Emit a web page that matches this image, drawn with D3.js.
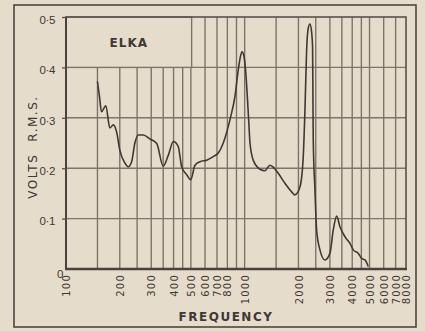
<!DOCTYPE html>
<html><head><meta charset="utf-8">
<script src="https://cdn.jsdelivr.net/npm/d3@7"></script>
<style>
html,body{margin:0;padding:0;background:#e6dccb;}
svg{display:block;}
</style></head>
<body>
<script>
// ---- data ----
const freqs = [150,154,158,167,176,184,192,200,214,223,233,243,254,271,295,322,350,374,399,425,444,474,499,527,562,613,667,712,759,827,882,921,945,966,990,1008,1053,1071,1117,1218,1299,1386,1446,1542,1681,1833,1912,2040,2128,2175,2223,2270,2320,2370,2400,2410,2421,2474,2529,2639,2814,3001,3131,3272,3415,3642,3884,4053,4322,4515,4713,4917];
const volts = [0.372,0.342,0.312,0.324,0.280,0.286,0.272,0.236,0.210,0.203,0.213,0.250,0.266,0.266,0.258,0.249,0.204,0.226,0.253,0.243,0.203,0.187,0.177,0.206,0.213,0.216,0.223,0.230,0.250,0.296,0.342,0.395,0.420,0.431,0.423,0.401,0.296,0.250,0.216,0.198,0.195,0.206,0.202,0.190,0.170,0.153,0.147,0.163,0.223,0.315,0.435,0.478,0.486,0.470,0.440,0.350,0.256,0.157,0.077,0.038,0.018,0.031,0.077,0.105,0.084,0.064,0.051,0.038,0.031,0.021,0.018,0.005];
const gridFreqs = [150,200,250,300,350,400,450,500,600,700,800,900,1000,1500,2000,2500,3000,3500,4000,4500,5000,6000,7000];
const gridVolts = [0.1,0.2,0.3,0.4];
const xTickValues = [100,200,300,400,500,600,700,800,1000,2000,3000,4000,5000,6000,7000,8000];
const yTickValues = [0,0.1,0.2,0.3,0.4,0.5];
const yTickLabels = ["0","0·1","0·2","0·3","0·4","0·5"];
const title = "ELKA";
const xTitle = "FREQUENCY";
const yTitleParts = ["VOLTS","R.M.S."];

// ---- layout ----
const W = 425, H = 331;
const L = 66, R = 406, T = 17, B = 269;
const bg = "#e6dccb", ink = "#3f3833", grid = "#7f746a";

const svg = d3.select("body").append("svg").attr("width", W).attr("height", H);
svg.append("rect").attr("width", W).attr("height", H).attr("fill", bg);

const x = d3.scaleLog().domain([100, 8000]).range([L, R]);
const y = d3.scaleLinear().domain([0, 0.5]).range([B, T]);

// outer frame
svg.append("rect").attr("x", 14).attr("y", 5).attr("width", 402).attr("height", 322)
  .attr("fill", "none").attr("stroke", "#4e4640").attr("stroke-width", 1.6);

// grid
svg.append("g").selectAll("line").data(gridFreqs).join("line")
  .attr("x1", d => x(d)).attr("x2", d => x(d)).attr("y1", T).attr("y2", B)
  .attr("stroke", grid).attr("stroke-width", 1.4);
svg.append("g").selectAll("line").data(gridVolts).join("line")
  .attr("x1", L).attr("x2", R).attr("y1", d => y(d)).attr("y2", d => y(d))
  .attr("stroke", grid).attr("stroke-width", 1.4);

// title box (covers grid)
const boxR = x(505), boxB = y(0.4);
svg.append("rect").attr("x", L).attr("y", T).attr("width", boxR - L).attr("height", boxB - T)
  .attr("fill", bg).attr("stroke", grid).attr("stroke-width", 1.4);
svg.append("text").attr("x", (L + boxR) / 2).attr("y", (T + boxB) / 2).attr("dy", "0.36em")
  .attr("text-anchor", "middle").attr("font-family", "DejaVu Sans").attr("font-weight", "bold")
  .attr("font-size", 12).attr("letter-spacing", 1).attr("fill", ink).text(title);

// plot border
svg.append("rect").attr("x", L).attr("y", T).attr("width", R - L).attr("height", B - T)
  .attr("fill", "none").attr("stroke", "#5a514a").attr("stroke-width", 1.6);
svg.append("line").attr("x1", L - 1).attr("x2", R + 1).attr("y1", B).attr("y2", B)
  .attr("stroke", "#4a423c").attr("stroke-width", 2.4);
svg.append("line").attr("x1", L).attr("x2", L).attr("y1", T).attr("y2", B)
  .attr("stroke", "#4a423c").attr("stroke-width", 2);

// curve
const pts = freqs.map((f, i) => [f, volts[i]]);
svg.append("path").datum(pts)
  .attr("d", d3.line().x(d => x(d[0])).y(d => y(d[1])).curve(d3.curveMonotoneX))
  .attr("fill", "none").attr("stroke", ink).attr("stroke-width", 1.6).attr("stroke-linejoin", "round");

// y axis
const yAxis = svg.append("g").attr("transform", `translate(${L},0)`)
  .call(d3.axisLeft(y).tickValues(yTickValues).tickSize(4).tickPadding(7)
    .tickFormat((d, i) => yTickLabels[i]));
yAxis.select(".domain").remove();
yAxis.selectAll(".tick line").attr("stroke", "#5a514a").attr("stroke-width", 1.3);
yAxis.selectAll("text").attr("font-family", "Liberation Sans").attr("font-size", 11.5)
  .attr("letter-spacing", -0.4).attr("fill", ink).attr("dy", "0.55em");
yAxis.selectAll(".tick").filter(d => d === 0).select("text").attr("x", -3).attr("dy", "0.7em");
yAxis.selectAll(".tick").filter(d => d === 0).select("line").remove();

// x axis labels
const xAxis = svg.append("g").attr("transform", `translate(0,${B})`)
  .call(d3.axisBottom(x).tickValues(xTickValues).tickSize(0).tickFormat(d3.format("d")));
xAxis.select(".domain").remove();
xAxis.selectAll("text").attr("transform", "rotate(-90)").attr("x", -5).attr("y", 0)
  .attr("dy", "0.36em").attr("text-anchor", "end")
  .attr("font-family", "DejaVu Sans").attr("font-size", 10).attr("letter-spacing", 1.2)
  .attr("fill", ink);

// axis titles
svg.append("text").attr("x", 226).attr("y", 321).attr("text-anchor", "middle")
  .attr("font-family", "DejaVu Sans").attr("font-weight", "bold").attr("font-size", 12)
  .attr("letter-spacing", 1.5).attr("fill", ink).text(xTitle);
const yt = svg.append("text").attr("transform", "translate(37,147) rotate(-90)")
  .attr("text-anchor", "middle").attr("font-family", "DejaVu Sans").attr("font-size", 12)
  .attr("letter-spacing", 1.5).attr("fill", ink);
yt.append("tspan").text(yTitleParts[0]);
yt.append("tspan").attr("dx", 12).text(yTitleParts[1]);
</script>
</body></html>
